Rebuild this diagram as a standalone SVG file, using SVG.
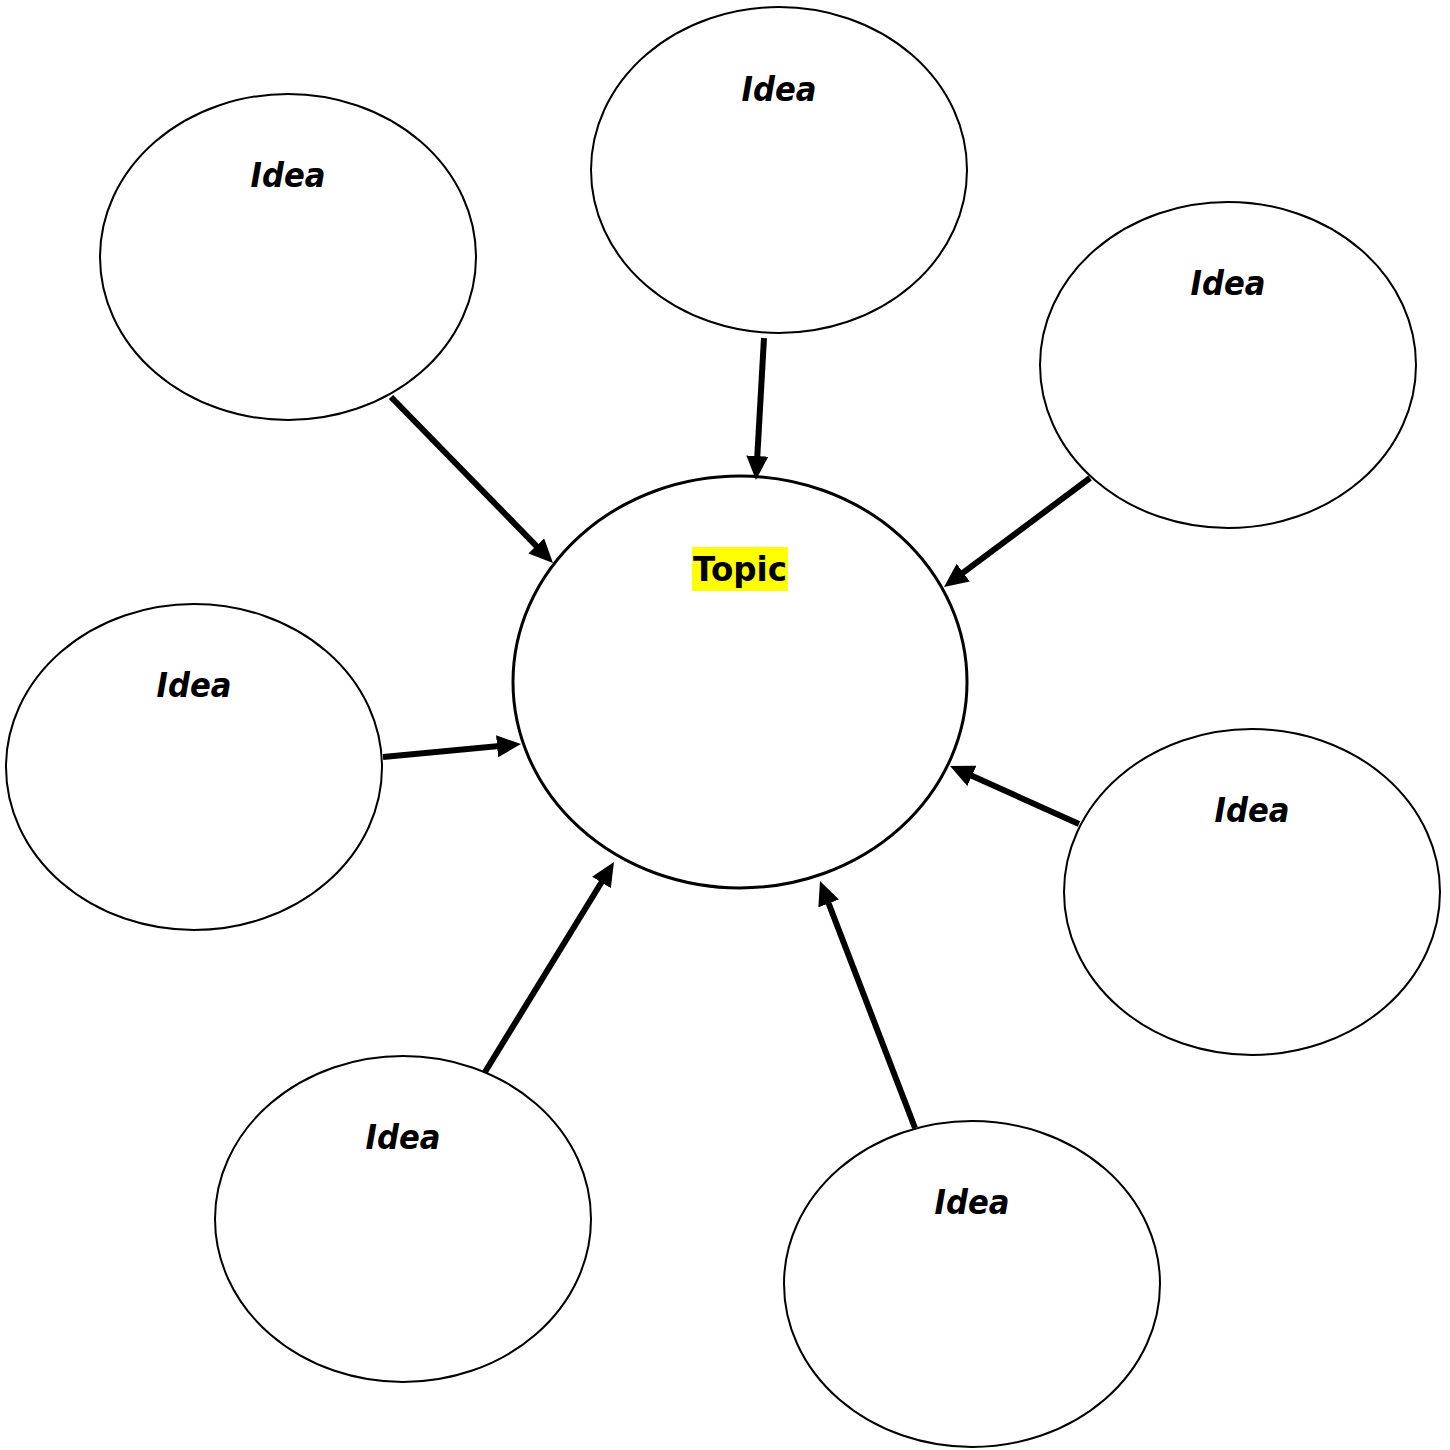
<svg xmlns="http://www.w3.org/2000/svg" width="1450" height="1450" viewBox="0 0 1450 1450">
<style>
.idea{fill:#fff;stroke:#000;stroke-width:2}
.topic{fill:#fff;stroke:#000;stroke-width:3}
.lbl{font-family:"DejaVu Sans","Liberation Sans",sans-serif;font-weight:bold;font-style:italic;font-size:33px;fill:#000;text-anchor:middle}
.tlbl{font-family:"DejaVu Sans","Liberation Sans",sans-serif;font-weight:bold;font-size:33px;fill:#000;text-anchor:middle}
.conn{stroke:#000;stroke-width:6;fill:none;marker-end:url(#ah)}
</style>
<defs>
<marker id="ah" markerUnits="userSpaceOnUse" markerWidth="24" markerHeight="22" viewBox="0 0 24 22" refX="16" refY="11" orient="auto">
<path d="M0,0 L24,11 L0,22 z" fill="#000"/>
</marker>
</defs>
<rect width="1450" height="1450" fill="#fff"/>
<g id="node-topic">
<ellipse class="topic" cx="740" cy="682" rx="227" ry="206"/>
<rect x="692" y="547" width="96" height="44" fill="#ffff00"/>
<text class="tlbl" x="740" y="581" textLength="94" lengthAdjust="spacingAndGlyphs">Topic</text>
</g>
<g id="node-idea-top">
<ellipse class="idea" cx="779" cy="170" rx="188" ry="163"/>
<text class="lbl" x="779" y="101" textLength="75" lengthAdjust="spacingAndGlyphs">Idea</text>
</g>
<g id="node-idea-topleft">
<ellipse class="idea" cx="288" cy="257" rx="188" ry="163"/>
<text class="lbl" x="288" y="187" textLength="75" lengthAdjust="spacingAndGlyphs">Idea</text>
</g>
<g id="node-idea-topright">
<ellipse class="idea" cx="1228" cy="365" rx="188" ry="163"/>
<text class="lbl" x="1228" y="295" textLength="75" lengthAdjust="spacingAndGlyphs">Idea</text>
</g>
<g id="node-idea-left">
<ellipse class="idea" cx="194" cy="767" rx="188" ry="163"/>
<text class="lbl" x="194" y="697" textLength="75" lengthAdjust="spacingAndGlyphs">Idea</text>
</g>
<g id="node-idea-right">
<ellipse class="idea" cx="1252" cy="892" rx="188" ry="163"/>
<text class="lbl" x="1252" y="822" textLength="75" lengthAdjust="spacingAndGlyphs">Idea</text>
</g>
<g id="node-idea-bottomleft">
<ellipse class="idea" cx="403" cy="1219" rx="188" ry="163"/>
<text class="lbl" x="403" y="1149" textLength="75" lengthAdjust="spacingAndGlyphs">Idea</text>
</g>
<g id="node-idea-bottom">
<ellipse class="idea" cx="972" cy="1284" rx="188" ry="163"/>
<text class="lbl" x="972" y="1214" textLength="75" lengthAdjust="spacingAndGlyphs">Idea</text>
</g>
<g id="connectors">
<line class="conn" x1="391" y1="397" x2="547.4" y2="557.3"/>
<line class="conn" x1="764" y1="338" x2="756.4" y2="472"/>
<line class="conn" x1="1090" y1="478" x2="950.4" y2="582.2"/>
<line class="conn" x1="383" y1="757" x2="513" y2="744.8"/>
<line class="conn" x1="1079" y1="824" x2="957.3" y2="769.3"/>
<line class="conn" x1="915" y1="1128" x2="822.9" y2="888.5"/>
<line class="conn" x1="485" y1="1072" x2="609.8" y2="868.8"/>
</g>
</svg>
